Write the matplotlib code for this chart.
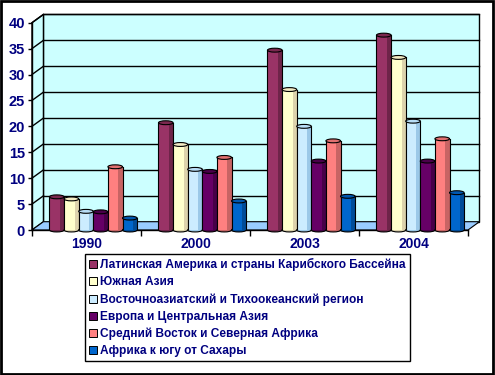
import matplotlib
matplotlib.use("Agg")
import matplotlib.pyplot as plt
from matplotlib.patches import Polygon, Rectangle, Ellipse
from matplotlib.lines import Line2D

categories = ['1990', '2000', '2003', '2004']
series_names = [
    'Латинская Америка и страны Карибского Бассейна',
    'Южная Азия',
    'Восточноазиатский и Тихоокеанский регион',
    'Европа и Центральная Азия',
    'Средний Восток и Северная Африка',
    'Африка к югу от Сахары',
]
latin = [6.4, 20.7, 34.7, 37.6]
south_asia = [6.0, 16.5, 27.1, 33.3]
east_asia = [3.6, 11.7, 20.0, 21.0]
europe = [3.5, 11.3, 13.3, 13.3]
mena = [12.2, 14.0, 17.2, 17.6]
ssa = [2.3, 5.6, 6.5, 7.2]
series = [latin, south_asia, east_asia, europe, mena, ssa]
yticks = [0, 5, 10, 15, 20, 25, 30, 35, 40]

main_cols = ['#993366', '#FFFFCC', '#CCECFF', '#660066', '#FF8080', '#0066CC']
side_cols = ['#6E2449', '#DDD3AC', '#9CC8E8', '#480048', '#C86464', '#004C99']
top_cols = ['#7A284F', '#F2EBC4', '#B8DDF6', '#4A004A', '#E07070', '#0058B0']

navy = '#000080'
font = 'Liberation Sans'

W, H = 495, 375
fig = plt.figure(figsize=(W / 100, H / 100), dpi=100)
x0, x1, yb, yt = 32, 468, 230, 22.7
ax = fig.add_axes([x0 / W, (H - yb) / H, (x1 - x0) / W, (yb - yt) / H])
ax.set_xlim(0, 4)
ax.set_ylim(0, 40)
ax.set_facecolor('none')

ddx, ddy = 0.105, 1.6  # depth offset in data units

# walls
ax.add_patch(Rectangle((ddx, ddy), 4, 40, facecolor='#CCFFFF', edgecolor='black', lw=1, zorder=0, clip_on=False))
ax.add_patch(Polygon([(0, 0), (ddx, ddy), (ddx, 40 + ddy), (0, 40)], closed=True,
                     facecolor='#CCFFFF', edgecolor='black', lw=1, zorder=0, clip_on=False))
ax.add_patch(Polygon([(0, 0), (4, 0), (4 + ddx, ddy), (ddx, ddy)], closed=True,
                     facecolor='#99CCFF', edgecolor='black', lw=0.8, zorder=0.5, clip_on=False))
for v in yticks[1:]:
    ax.plot([ddx, 4 + ddx], [v + ddy, v + ddy], color='black', lw=1, zorder=0.6, clip_on=False)
    ax.plot([0, ddx], [v, v + ddy], color='black', lw=1, zorder=0.6, clip_on=False)

# bars as cylinders
w = 0.134
ell_h = 0.75
for j, vals in enumerate(series):
    for i, v in enumerate(vals):
        c = i + 0.5 + ddx / 2 + (j - 2.5) * w + 0.01
        z = 2 + j * 0.1
        ax.add_patch(Ellipse((c, 0), w, ell_h, facecolor=side_cols[j], edgecolor='black', lw=0.8, zorder=z, clip_on=False))
        ax.bar(c, v, width=w, color=main_cols[j], edgecolor='none', zorder=z + 0.01)
        ax.bar(c + w * 0.36, v, width=w * 0.28, color=side_cols[j], edgecolor='none', zorder=z + 0.02)
        ax.plot([c - w / 2, c - w / 2], [0, v], color='black', lw=0.8, zorder=z + 0.03)
        ax.plot([c + w / 2, c + w / 2], [0, v], color='black', lw=0.8, zorder=z + 0.03)
        ax.add_patch(Ellipse((c, v), w, ell_h, facecolor=top_cols[j], edgecolor='black', lw=0.8, zorder=z + 0.04, clip_on=False))

# axes
for s in ['top', 'right']:
    ax.spines[s].set_visible(False)
ax.spines['left'].set_linewidth(1)
ax.spines['bottom'].set_linewidth(1)
ax.spines['left'].set_zorder(5)
ax.spines['bottom'].set_zorder(1)
ax.set_yticks(yticks)
ax.set_yticklabels([str(t) for t in yticks], fontfamily=font, fontweight='bold', fontsize=10.5, color=navy)
ax.tick_params(axis='y', length=3, width=1, pad=2, direction='out')
ax.set_xticks([0, 1, 2, 3, 4])
ax.set_xticklabels([])
ax.tick_params(axis='x', which='major', length=4, width=1, direction='out')
ax.set_xticks([0.5, 1.5, 2.5, 3.5], minor=True)
ax.set_xticklabels(categories, minor=True, fontfamily=font, fontweight='bold', fontsize=10, color=navy)
ax.tick_params(axis='x', which='minor', length=0, pad=5)

# legend
handles = [Line2D([], [], marker='s', ls='none', markersize=5.5, markerfacecolor=main_cols[k],
                  markeredgecolor='black', markeredgewidth=0.7) for k in range(6)]
leg = fig.legend(handles, series_names, loc='upper left', bbox_to_anchor=(85 / W, 1 - 254 / H),
                 frameon=True, fancybox=False, edgecolor='black', framealpha=1,
                 prop={'family': font, 'weight': 'bold', 'size': 8.6},
                 handlelength=0.6, handletextpad=0.3, labelspacing=0.42, borderpad=0.35,
                 borderaxespad=0)
leg.get_frame().set_linewidth(1)
for t in leg.get_texts():
    t.set_color(navy)

# chart border
fig.patches.append(Rectangle((0.5 / W, 1.5 / H), (W - 2.5) / W, (H - 2.5) / H, transform=fig.transFigure,
                             fill=False, edgecolor='black', lw=2))

fig.savefig('out.png', dpi=100)
